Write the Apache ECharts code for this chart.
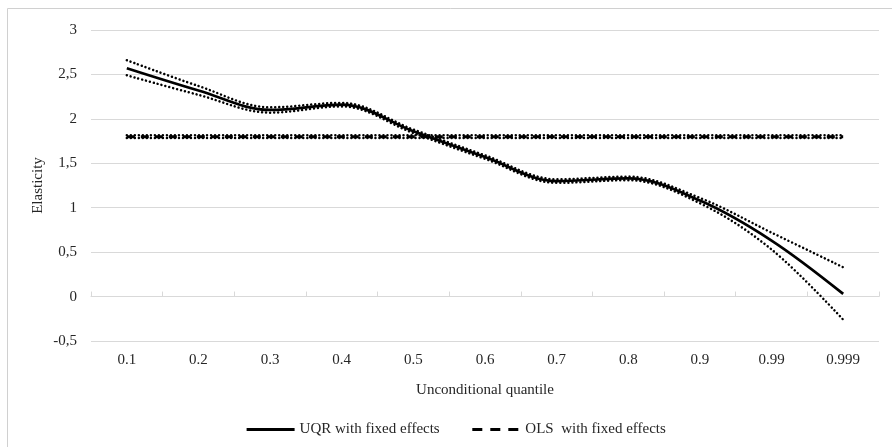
<!DOCTYPE html>
<html>
<head>
<meta charset="utf-8">
<script src="https://cdn.jsdelivr.net/npm/echarts@6/dist/echarts.min.js"></script>
<style>
  html, body { margin: 0; padding: 0; background: #fff; }
  #chart { width: 892px; height: 447px; }
</style>
</head>
<body>
<div id="chart"></div>
<script>
// Unconditional quantiles on the horizontal axis
const quantiles = ['0.1', '0.2', '0.3', '0.4', '0.5', '0.6', '0.7', '0.8', '0.9', '0.99', '0.999'];

// UQR elasticity estimates with their confidence band
const uqr      = [2.57, 2.32, 2.10, 2.16, 1.86, 1.57, 1.30, 1.33, 1.08, 0.63, 0.03];
const uqrUpper = [2.66, 2.37, 2.13, 2.18, 1.88, 1.59, 1.32, 1.35, 1.11, 0.72, 0.33];
const uqrLower = [2.49, 2.27, 2.07, 2.14, 1.84, 1.55, 1.28, 1.31, 1.05, 0.53, -0.26];

// OLS elasticity (constant across quantiles) with its confidence band
const ols      = [1.80, 1.80, 1.80, 1.80, 1.80, 1.80, 1.80, 1.80, 1.80, 1.80, 1.80];
const olsUpper = [1.815, 1.815, 1.815, 1.815, 1.815, 1.815, 1.815, 1.815, 1.815, 1.815, 1.815];
const olsLower = [1.785, 1.785, 1.785, 1.785, 1.785, 1.785, 1.785, 1.785, 1.785, 1.785, 1.785];

const serif = '"Liberation Serif", "DejaVu Serif", serif';
const textColor = '#262626';
const gridColor = '#d9d9d9';
const fontSize = 15;
const smoothness = 0.35;

const chart = echarts.init(document.getElementById('chart'));

// Round-dot line used for the confidence bounds
function dotted(name, data, smooth) {
  return {
    name: name,
    type: 'line',
    data: data,
    smooth: smooth,
    symbol: 'none',
    silent: true,
    color: '#000',
    lineStyle: { color: '#000', width: 2.5, type: [0.01, 4], cap: 'round' },
    z: 3
  };
}

chart.setOption({
  animation: false,
  backgroundColor: '#fff',
  color: ['#000'],
  graphic: [{
    type: 'rect',
    shape: { x: 7.5, y: 8.5, width: 900, height: 500 },
    style: { fill: 'none', stroke: '#d0d0d0', lineWidth: 1 },
    silent: true,
    z: -10
  }],
  grid: { left: 91, right: 13, top: 30, bottom: 106 },
  legend: {
    left: 240,
    top: 417,
    data: [
      { name: 'UQR with fixed effects' },
      { name: 'OLS  with fixed effects', lineStyle: { type: [10, 8] } }
    ],
    itemWidth: 48,
    itemHeight: 14,
    itemGap: 31,
    itemStyle: { opacity: 0 },
    lineStyle: { width: 3.2 },
    textStyle: { fontFamily: serif, fontSize: fontSize, color: textColor }
  },
  xAxis: [{
    type: 'category',
    data: quantiles,
    boundaryGap: true,
    position: 'bottom',
    axisLine: { show: false, onZero: false },
    axisTick: { show: false },
    axisLabel: { fontFamily: serif, fontSize: fontSize, color: textColor, margin: 12 },
    name: 'Unconditional quantile',
    nameLocation: 'middle',
    nameGap: 42,
    nameTextStyle: { fontFamily: serif, fontSize: fontSize, color: textColor },
    splitLine: { show: false }
  }, {
    type: 'category',
    data: quantiles,
    boundaryGap: true,
    axisLine: { show: true, onZero: true, onZeroAxisIndex: 0, lineStyle: { color: gridColor, width: 1 } },
    axisTick: { show: true, length: 5, inside: false, lineStyle: { color: gridColor } },
    axisLabel: { show: false },
    splitLine: { show: false }
  }],
  yAxis: {
    type: 'value',
    min: -0.5,
    max: 3,
    interval: 0.5,
    axisLine: { show: false },
    axisTick: { show: false },
    axisLabel: {
      fontFamily: serif, fontSize: fontSize, color: textColor, margin: 14,
      formatter: v => String(Math.round(v * 10) / 10).replace('.', ',')
    },
    splitLine: { lineStyle: { color: gridColor, width: 1 } },
    name: 'Elasticity',
    nameLocation: 'middle',
    nameGap: 45,
    nameMoveOverlap: false,
    nameRotate: 90,
    nameTextStyle: { fontFamily: serif, fontSize: fontSize, color: textColor }
  },
  series: [
    {
      name: 'OLS  with fixed effects',
      type: 'line',
      data: ols,
      symbol: 'none',
      silent: true,
      color: '#000',
      lineStyle: { color: '#000', width: 3, type: [8, 6] },
      z: 2
    },
    dotted('OLS upper', olsUpper, false),
    dotted('OLS lower', olsLower, false),
    {
      name: 'UQR with fixed effects',
      type: 'line',
      data: uqr,
      smooth: smoothness,
      symbol: 'none',
      silent: true,
      color: '#000',
      lineStyle: { color: '#000', width: 2.7 },
      z: 4
    },
    dotted('UQR upper', uqrUpper, smoothness),
    dotted('UQR lower', uqrLower, smoothness)
  ]
});
</script>
</body>
</html>
